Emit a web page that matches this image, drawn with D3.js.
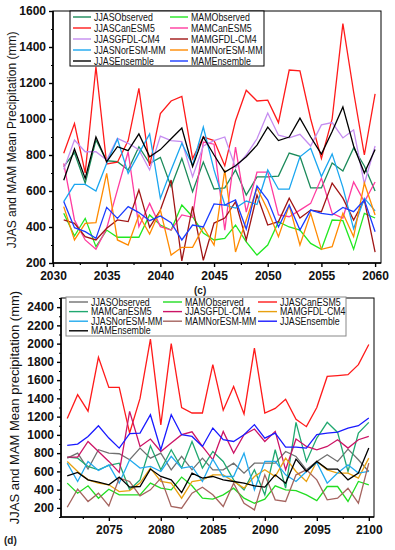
<!DOCTYPE html>
<html>
<head>
<meta charset="utf-8">
<script src="https://cdn.jsdelivr.net/npm/d3@7"></script>
<style>
  body { margin: 0; background: #fff; }
  text { font-family: Arial, "Liberation Sans", sans-serif; }
</style>
</head>
<body>
<svg id="chart" width="395" height="550"></svg>
<script>
// ---- data, panel (c): 2031-2060 ----
const yearsC = d3.range(2031, 2061);
const jjasObsC  = [735,813,643,883,768,763,717,846,754,787,624,781,596,761,611,617,717,578,678,678,683,811,793,617,617,756,711,839,739,600];
const jjasCanC  = [810,975,700,1290,750,760,880,1170,740,1030,1100,1125,780,900,880,740,990,1160,1100,1105,980,1272,1268,1000,780,1000,1530,1150,800,1140];
const jjasGfdlC = [720,883,818,818,772,892,865,830,717,905,880,875,680,850,880,900,730,800,890,1033,910,895,915,850,967,980,895,940,640,850];
const jjasNorC  = [541,637,637,600,754,889,698,809,917,559,717,865,744,955,717,522,505,544,525,717,610,610,790,837,680,806,620,390,560,490];
const jjasEnsC  = [660,833,670,900,763,846,824,917,790,830,890,950,735,900,800,705,740,790,855,955,880,900,1005,900,805,930,1067,850,700,830];
const mamObsC   = [476,350,448,291,383,343,343,343,467,411,383,522,457,367,328,337,411,317,244,300,428,400,383,309,276,439,435,276,476,450];
const mamCanC   = [754,439,328,276,393,606,818,402,531,402,383,467,454,872,860,383,844,483,705,705,467,457,494,531,672,476,450,650,540,650];
const mamGfdlC  = [439,420,346,328,393,439,430,606,398,494,661,212,515,215,422,450,540,328,578,411,430,560,450,494,485,644,560,439,550,261];
const mamNorC   = [513,328,420,424,698,328,300,467,361,494,244,287,287,400,300,717,261,439,617,494,346,520,300,476,276,291,476,346,644,467];
const mamEnsC   = [541,396,374,337,509,448,513,480,435,461,424,328,411,400,528,522,550,389,628,550,400,522,383,494,476,467,509,485,550,374];

// ---- data, panel (d): 2071-2100 ----
const yearsD = d3.range(2071, 2101);
const jjasObsD  = [745,800,625,837,800,793,727,855,745,800,617,764,617,745,617,617,690,581,690,690,690,818,764,617,709,782,709,844,727,599];
const mamObsD   = [471,361,442,306,405,343,343,343,471,416,398,537,442,306,295,343,416,306,251,295,442,398,390,343,280,434,434,270,489,453];
const jjasCanD  = [1180,1440,1260,1850,1520,1520,1020,1400,2050,1110,2000,1300,1240,1240,1770,1270,1530,1230,1950,1240,1290,1390,1170,1090,1300,1640,1650,1660,1770,1990];
const mamCanD   = [756,745,654,617,665,690,398,507,880,617,837,636,928,636,818,709,507,398,617,343,837,416,1137,709,965,1137,1027,599,1020,1137];
const jjasGfdlD = [756,756,928,818,709,588,1258,873,954,818,910,1002,1034,873,727,1038,800,1002,1064,928,1038,617,954,873,837,873,947,855,947,983];
const mamGfdlD  = [709,599,507,471,453,379,390,471,636,489,471,306,489,507,562,562,489,416,544,617,544,745,599,489,709,617,581,581,526,745];
const jjasNorD  = [690,489,709,610,672,471,727,636,654,599,764,636,654,489,734,544,544,800,398,709,709,562,489,599,698,471,581,672,581,599];
const mamNorD   = [207,405,270,361,222,526,489,332,398,526,215,196,361,427,343,215,471,251,178,562,288,270,562,617,507,288,306,416,251,690];
const jjasEnsD  = [884,899,983,1100,965,855,1013,1020,1221,837,1221,1002,983,873,1075,947,928,1002,1112,965,1020,866,866,855,1002,1020,1031,1075,1100,1185];
const mamEnsD   = [551,588,507,482,453,537,427,434,625,544,507,368,581,526,544,507,489,471,442,427,562,471,734,599,709,625,625,507,581,855];

const ticksYC = d3.range(200, 1601, 200);
const ticksXC = d3.range(2030, 2061, 5);
const ticksYD = d3.range(200, 2401, 200);
const ticksXD = d3.range(2075, 2101, 5);

const seriesC = [
  {name: 'JJASObserved',  color: '#1b8a5a', values: jjasObsC},
  {name: 'MAMObserved',   color: '#22e822', values: mamObsC},
  {name: 'JJASCanESM5',   color: '#ff1a1a', values: jjasCanC},
  {name: 'MAMCanESM5',    color: '#ff3ca0', values: mamCanC},
  {name: 'JJASGFDL-CM4',  color: '#c58cf0', values: jjasGfdlC},
  {name: 'MAMGFDL-CM4',   color: '#a01515', values: mamGfdlC},
  {name: 'JJASNorESM-MM', color: '#1aa6f0', values: jjasNorC},
  {name: 'MAMNorESM-MM',  color: '#ff8a00', values: mamNorC},
  {name: 'JJASEnsemble',  color: '#000000', values: jjasEnsC},
  {name: 'MAMEnsemble',   color: '#1a3cff', values: mamEnsC}
];

const seriesD = [
  {name: 'JJASObserved',  color: '#707070', values: jjasObsD},
  {name: 'MAMObserved',   color: '#22dd22', values: mamObsD},
  {name: 'JJASCanESM5',   color: '#ff1a1a', values: jjasCanD},
  {name: 'MAMCanESM5',    color: '#20a870', values: mamCanD},
  {name: 'JJASGFDL-CM4',  color: '#cc1465', values: jjasGfdlD},
  {name: 'MAMGFDL-CM4',   color: '#e8a010', values: mamGfdlD},
  {name: 'JJASNorESM-MM', color: '#22aaee', values: jjasNorD},
  {name: 'MAMNorESM-MM',  color: '#a5645f', values: mamNorD},
  {name: 'JJASEnsemble',  color: '#1a1aff', values: jjasEnsD},
  {name: 'MAMEnsemble',   color: '#000000', values: mamEnsD}
];

const svg = d3.select('#chart');
svg.append('rect').attr('width', 395).attr('height', 550).attr('fill', '#fff');

function panel(cfg) {
  const x = d3.scaleLinear().domain(cfg.xDomain).range([cfg.left, cfg.right]);
  const y = d3.scaleLinear().domain(cfg.yDomain).range([cfg.bottom, cfg.top]);
  const g = svg.append('g');

  const line = d3.line()
      .x((d, i) => x(cfg.years[i]))
      .y(d => y(d));

  g.append('g')
    .selectAll('path')
    .data(cfg.series)
    .join('path')
      .attr('d', d => line(d.values))
      .attr('fill', 'none')
      .attr('stroke', d => d.color)
      .attr('stroke-width', 1.3)
      .attr('stroke-linejoin', 'miter');

  // frame
  g.append('rect')
      .attr('x', cfg.left).attr('y', cfg.top)
      .attr('width', cfg.right - cfg.left).attr('height', cfg.bottom - cfg.top)
      .attr('fill', 'none').attr('stroke', '#000').attr('stroke-width', 1);

  // y axis
  const yMinor = d3.range(cfg.yDomain[0], cfg.yDomain[1] + 1, cfg.yStep / 2)
      .filter(v => !cfg.yTicks.includes(v));
  g.append('g')
      .attr('transform', `translate(${cfg.left},0)`)
      .call(d3.axisLeft(y).tickValues(yMinor).tickSize(2).tickFormat(''))
      .call(a => a.select('.domain').remove())
      .call(a => a.selectAll('line').attr('stroke-width', 1.2));
  g.append('g')
      .attr('transform', `translate(${cfg.left},0)`)
      .call(d3.axisLeft(y).tickValues(cfg.yTicks).tickSize(4).tickPadding(3).tickFormat(d3.format('d')))
      .call(a => a.select('.domain').attr('stroke-width', 1.6).attr('d', `M0,${cfg.top}V${cfg.bottom}`))
      .call(a => a.selectAll('line').attr('stroke-width', 1.4))
      .call(a => a.selectAll('text')
          .attr('font-size', 12).attr('font-weight', 'bold')
          .attr('font-family', 'Arial, "Liberation Sans", sans-serif').attr('fill', '#111'));

  // x axis
  const xMinor = cfg.xTicks.map(v => v + 2.5).filter(v => v < cfg.xDomain[1]);
  if (cfg.xTicks[0] - 2.5 > cfg.xDomain[0]) xMinor.unshift(cfg.xTicks[0] - 2.5);
  g.append('g')
      .attr('transform', `translate(0,${cfg.bottom})`)
      .call(d3.axisBottom(x).tickValues(xMinor).tickSize(2).tickFormat(''))
      .call(a => a.select('.domain').remove())
      .call(a => a.selectAll('line').attr('stroke-width', 1.2));
  g.append('g')
      .attr('transform', `translate(0,${cfg.bottom})`)
      .call(d3.axisBottom(x).tickValues(cfg.xTicks).tickSize(4).tickPadding(4).tickFormat(d3.format('d')))
      .call(a => a.select('.domain').attr('stroke-width', 1.6).attr('d', `M${cfg.left},0H${cfg.right}`))
      .call(a => a.selectAll('line').attr('stroke-width', 1.4))
      .call(a => a.selectAll('text')
          .attr('font-size', 12).attr('font-weight', 'bold')
          .attr('font-family', 'Arial, "Liberation Sans", sans-serif').attr('fill', '#111'));

  // y label
  g.append('text')
      .attr('transform', `translate(${cfg.ylabelX},${(cfg.top + cfg.bottom) / 2 + cfg.ylabelShift}) rotate(-90)`)
      .attr('text-anchor', 'middle')
      .attr('font-size', cfg.ylabelSize)
      .attr('fill', '#111')
      .text(cfg.ylabel);

  // legend, filled row by row
  const L = cfg.legend;
  g.append('rect')
      .attr('x', L.x).attr('y', L.y).attr('width', L.w).attr('height', L.h)
      .attr('fill', '#fff').attr('stroke', L.stroke).attr('stroke-width', 1);
  const items = g.append('g')
    .selectAll('g')
    .data(cfg.series)
    .join('g')
      .attr('transform', (d, i) =>
        `translate(${L.colX[i % L.cols]},${L.rowY + Math.floor(i / L.cols) * L.rowStep})`);
  items.append('line')
      .attr('x1', 0).attr('x2', L.lineLen)
      .attr('stroke', d => d.color).attr('stroke-width', 1.4);
  items.append('text')
      .attr('x', L.lineLen + 3)
      .attr('dy', '0.35em')
      .attr('font-size', L.fontSize)
      .attr('fill', '#111')
      .text(d => d.name)
      .each(function() {
        const len = this.getComputedTextLength();
        d3.select(this).attr('textLength', len * L.squeeze).attr('lengthAdjust', 'spacingAndGlyphs');
      });

  // panel tag
  svg.append('text')
      .attr('x', cfg.tag.x).attr('y', cfg.tag.y)
      .attr('font-family', '"Times New Roman", "Liberation Serif", serif')
      .attr('font-weight', 'bold')
      .attr('font-size', 10)
      .attr('fill', '#222')
      .text(cfg.tag.text);
}

panel({
  left: 53, right: 381, top: 11, bottom: 263,
  xDomain: [2030, 2060.55], yDomain: [200, 1600], yStep: 200,
  years: yearsC, series: seriesC,
  yTicks: ticksYC, xTicks: ticksXC,
  ylabel: 'JJAS and MAM Mean Precipitation (mm)', ylabelX: 16, ylabelSize: 12, ylabelShift: 3,
  legend: {
    x: 70, y: 11, w: 194, h: 55, stroke: '#000',
    cols: 2, colX: [73, 170], rowY: 17, rowStep: 11, lineLen: 18,
    fontSize: 10.5, squeeze: 0.84
  },
  tag: {x: 194, y: 294, text: '(c)'}
});

panel({
  left: 61, right: 374, top: 298, bottom: 517,
  xDomain: [2070.4, 2100.5], yDomain: [100, 2500], yStep: 200,
  years: yearsD, series: seriesD,
  yTicks: ticksYD, xTicks: ticksXD,
  ylabel: 'JJAS  and MAM Mean precipitation (mm)', ylabelX: 19, ylabelSize: 13, ylabelShift: 0,
  legend: {
    x: 66, y: 297, w: 280, h: 39, stroke: '#888',
    cols: 3, colX: [69, 163, 258], rowY: 302, rowStep: 9.6, lineLen: 19,
    fontSize: 10, squeeze: 0.88
  },
  tag: {x: 4, y: 544, text: '(d)'}
});
</script>
</body>
</html>
